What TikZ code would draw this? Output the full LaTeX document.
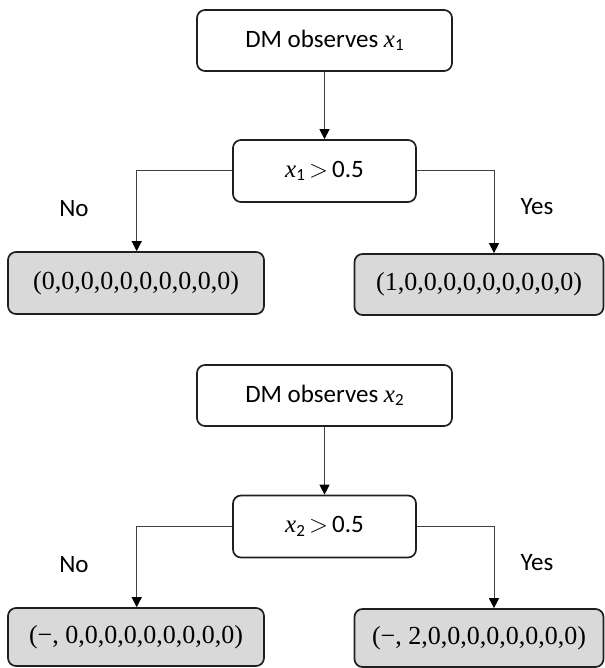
\documentclass[tikz,border=0pt]{standalone}
\usepackage{fontspec}
\setmainfont{Carlito}
\newfontfamily\seriffont{Liberation Serif}
\usetikzlibrary{arrows.meta}
\definecolor{leafgray}{HTML}{D9D9D9}
\definecolor{boxline}{HTML}{1F1F1F}
\definecolor{conline}{HTML}{404040}
\newcommand{\xvar}[1]{{\seriffont\itshape x}\raisebox{-0.28ex}{\fontsize{17}{17}\selectfont #1}}
\begin{document}
\begin{tikzpicture}[x=1pt,y=-1pt,
  boxstyle/.style={draw=boxline,line width=1.7pt,rounded corners=8pt,inner sep=0pt,
    font=\fontsize{25}{30}\selectfont},
  leafbox/.style={boxstyle,fill=leafgray,font=\fontsize{26}{30}\selectfont\seriffont},
  conn/.style={draw=conline,line width=1pt,-{Triangle[length=10pt,width=10pt,color=black]}},
  lbl/.style={inner sep=0pt,font=\fontsize{25}{30}\selectfont}]
\useasboundingbox (0,0) rectangle (604,668);
% first tree
\node[boxstyle,minimum width=255pt,minimum height=61pt] (top1) at (324.5,40.5) {DM observes \xvar{1}};
\node[boxstyle,minimum width=183pt,minimum height=62pt] (dec1) at (324.5,171) {\xvar{1}\,\(>\)\,0.5};
\node[leafbox,minimum width=256pt,minimum height=62pt] (l1) at (136,283) {(0,0,0,0,0,0,0,0,0,0)};
\node[leafbox,minimum width=249pt,minimum height=61pt] (r1) at (479,284.5) {(1,0,0,0,0,0,0,0,0,0)};
\node[lbl] (no1) at (74,209) {No};
\node[lbl] (yes1) at (537,206.5) {Yes};
\draw[conn] (top1.south) -- (dec1.north);
\draw[conn] (dec1.west) -| ([xshift=0.7pt]l1.north);
\draw[conn] (dec1.east) -| ([xshift=15pt]r1.north);
% second tree
\node[boxstyle,minimum width=255pt,minimum height=61pt] (top2) at (324.5,395.5) {DM observes \xvar{2}};
\node[boxstyle,minimum width=183pt,minimum height=62pt] (dec2) at (324.5,526.5) {\xvar{2}\,\(>\)\,0.5};
\node[leafbox,minimum width=256pt,minimum height=58pt] (l2) at (136,637) {(−, 0,0,0,0,0,0,0,0,0)};
\node[leafbox,minimum width=249pt,minimum height=58pt] (r2) at (479,638) {(−, 2,0,0,0,0,0,0,0,0)};
\node[lbl] (no2) at (74,565) {No};
\node[lbl] (yes2) at (537,563) {Yes};
\draw[conn] (top2.south) -- (dec2.north);
\draw[conn] (dec2.west) -| ([xshift=0.7pt]l2.north);
\draw[conn] (dec2.east) -| ([xshift=15pt]r2.north);
\end{tikzpicture}
\end{document}
